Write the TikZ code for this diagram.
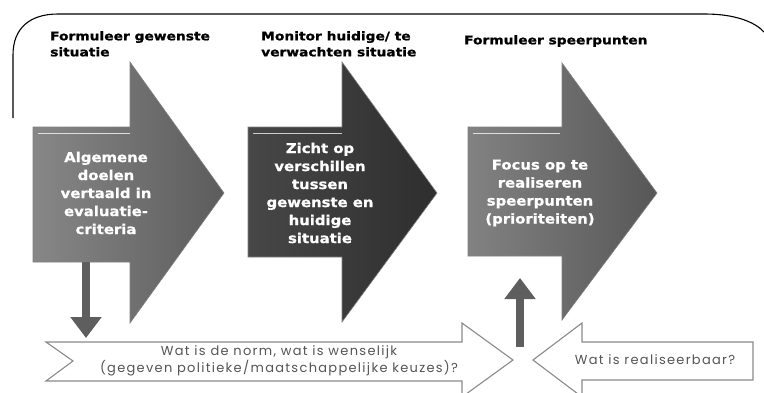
\documentclass[tikz,border=0pt]{standalone}
\usepackage{fontspec}
\setmainfont{DejaVu Sans}
\newfontfamily\headfont[FakeStretch=1.15,FakeBold=1.2]{DejaVu Sans Bold}
\newfontfamily\innerfont[FakeStretch=1.1,FakeBold=0.8]{DejaVu Sans Bold}
\newfontfamily\bannerfont[LetterSpace=10]{Poppins}
\usetikzlibrary{arrows.meta}
\definecolor{armonea}{HTML}{878787}
\definecolor{armoneb}{HTML}{5C5C5C}
\definecolor{armtwoa}{HTML}{474747}
\definecolor{armtwob}{HTML}{2E2E2E}
\definecolor{armthreea}{HTML}{828282}
\definecolor{armthreeb}{HTML}{575757}
\definecolor{shaftgray}{HTML}{5E5E5E}
\definecolor{bannerline}{HTML}{8A8A8A}
\definecolor{bannertext}{HTML}{555555}
\tikzset{
  bigarrow/.style={draw=black!50, line width=0.6pt, shading angle=-70},
  heading/.style={font=\headfont\fontsize{12}{16}\selectfont, align=left, anchor=north west, inner sep=0pt, text=black},
  inner/.style={font=\innerfont\fontsize{13.5}{18}\selectfont, align=center, text=white, inner sep=0pt},
  banner/.style={draw=bannerline, line width=1.1pt, fill=white},
  bantext/.style={font=\bannerfont\fontsize{13}{15.5}\selectfont, text=bannertext, align=center, inner sep=0pt},
  flow/.style={draw=shaftgray, line width=8pt, -{Triangle[width=30pt,length=21pt]}},
}
\begin{document}
\begin{tikzpicture}[x=1pt,y=-1pt]
\useasboundingbox (0,0) rectangle (764,392);
\clip (0,0) rectangle (764,392);
% outer frame (top part)
\draw[line width=1.1pt] (13,118) -- (13,55) .. controls (13,28) and (30,14) .. (58,14) -- (705,14) .. controls (735,14) and (755,22) .. (764,32);
% headings
\node[heading] (h1) at (50,31) {Formuleer gewenste\\situatie};
\node[heading] (h2) at (261,31) {Monitor huidige/ te\\verwachten situatie};
\node[heading] (h3) at (464,35) {Formuleer speerpunten};
% big arrows
\path[bigarrow, left color=armonea, right color=armoneb] (33,127) -- (130,127) -- (130,62) -- (224,193) -- (130,323) -- (130,262) -- (33,262) -- cycle;
\path[bigarrow, left color=armtwoa, right color=armtwob] (248,127) -- (342,127) -- (342,62) -- (437,193) -- (342,322) -- (342,257) -- (248,257) -- cycle;
\path[bigarrow, left color=armthreea, right color=armthreeb] (468,127) -- (562,127) -- (562,63) -- (657,193) -- (562,320) -- (562,256) -- (468,256) -- cycle;
\draw[white!75!gray, line width=0.8pt] (38,133) -- (130,133);
\draw[white!60!gray, line width=0.8pt] (253,133) -- (342,133);
\draw[white!75!gray, line width=0.8pt] (473,133) -- (560,133);
\node[inner] (t1) at (106,193) {Algemene\\doelen\\vertaald in\\evaluatie-\\criteria};
\node[inner] (t2) at (320,193) {Zicht op\\verschillen\\tussen\\gewenste en\\huidige\\situatie};
\node[inner] (t3) at (540,193) {Focus op te\\realiseren\\speerpunten\\(prioriteiten)};
% bottom banners
\path[banner] (46,342) -- (462,342) -- (462,323) -- (513,360) -- (462,397) -- (462,381) -- (46,381) -- (73,361) -- cycle;
\path[banner] (753,342) -- (582,342) -- (582,323) -- (533,360) -- (582,397) -- (582,380) -- (753,380) -- cycle;
\node[bantext] (b1) at (279,361) {Wat is de norm, wat is wenselijk\\(gegeven politieke/maatschappelijke keuzes)?};
\node[bantext] (b2) at (655,360) {Wat is realiseerbaar?};
% connectors
\coordinate (d1) at (86,262);
\coordinate (d2) at (86,338);
\coordinate (u1) at (520,347);
\coordinate (u2) at (520,278);
\draw[flow] (d1) -- (d2);
\draw[flow] (u1) -- (u2);
\end{tikzpicture}
\end{document}
